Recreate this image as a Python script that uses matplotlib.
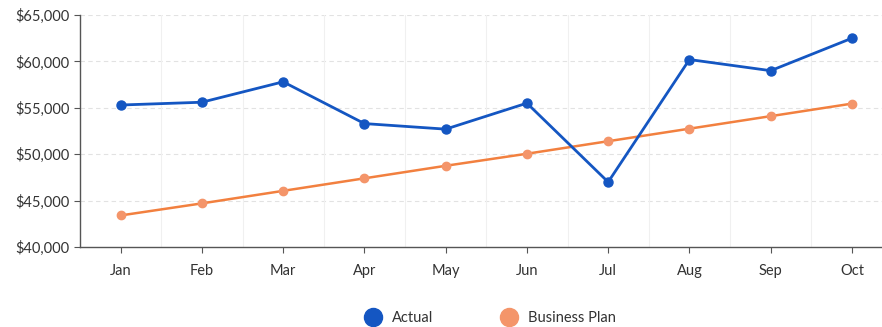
import matplotlib
matplotlib.use('Agg')
import matplotlib.pyplot as plt
from matplotlib.ticker import FuncFormatter
from matplotlib.lines import Line2D

months = ['Jan', 'Feb', 'Mar', 'Apr', 'May', 'Jun', 'Jul', 'Aug', 'Sep', 'Oct']
actual = [55300, 55600, 57800, 53300, 52700, 55500, 47000, 60200, 59000, 62500]
business_plan = [43400, 44700, 46050, 47400, 48750, 50050, 51400, 52750, 54100, 55450]

blue = '#1456c2'
orange = '#f2803f'
orange_marker = '#f4956a'

plt.rcParams['font.family'] = ['Lato', 'DejaVu Sans']

fig = plt.figure(figsize=(8.82, 3.27), dpi=100)
ax = fig.add_axes([80 / 882, 1 - 247 / 327, 1 - 80 / 882, 232 / 327])

x = list(range(len(months)))
ax.plot(x, business_plan, color=orange, lw=1.8, marker='o', ms=6,
        markerfacecolor=orange_marker, markeredgecolor=orange_marker, zorder=3)
ax.plot(x, actual, color=blue, lw=2.0, marker='o', ms=6.5,
        markerfacecolor=blue, markeredgecolor=blue, zorder=4)

ax.set_xlim(-0.5, 9.37)
ax.set_ylim(40000, 65000)
ax.set_yticks(range(40000, 65001, 5000))
ax.yaxis.set_major_formatter(FuncFormatter(lambda v, p: '${:,.0f}'.format(v)))
ax.set_xticks(x)
ax.set_xticklabels(months)

# faint dashed horizontal grid, faint vertical lines between categories
for v in range(45000, 65001, 5000):
    ax.axhline(v, color='#e2e2e2', lw=0.8, ls=(0, (4, 3)), zorder=0)
for b in [i + 0.5 for i in x[:-1]]:
    ax.axvline(b, color='#f0f0f0', lw=0.8, zorder=0)

for s in ['top', 'right']:
    ax.spines[s].set_visible(False)
for s in ['left', 'bottom']:
    ax.spines[s].set_color('#555555')
    ax.spines[s].set_linewidth(1.0)

ax.tick_params(axis='both', colors='#555555', labelcolor='#333333', labelsize=10.5, length=4)
ax.tick_params(axis='x', pad=8)

handles = [
    Line2D([], [], marker='o', ls='none', ms=13, color=blue, label='Actual'),
    Line2D([], [], marker='o', ls='none', ms=13, color=orange_marker, label='Business Plan'),
]
fig.legend(handles=handles, loc='center', bbox_to_anchor=(487 / 882, 1 - 318 / 327), ncol=2,
           frameon=False, fontsize=10.5, handletextpad=0.3, columnspacing=4.2,
           labelcolor='#333333')

fig.savefig('out.png', dpi=100, facecolor='white')
